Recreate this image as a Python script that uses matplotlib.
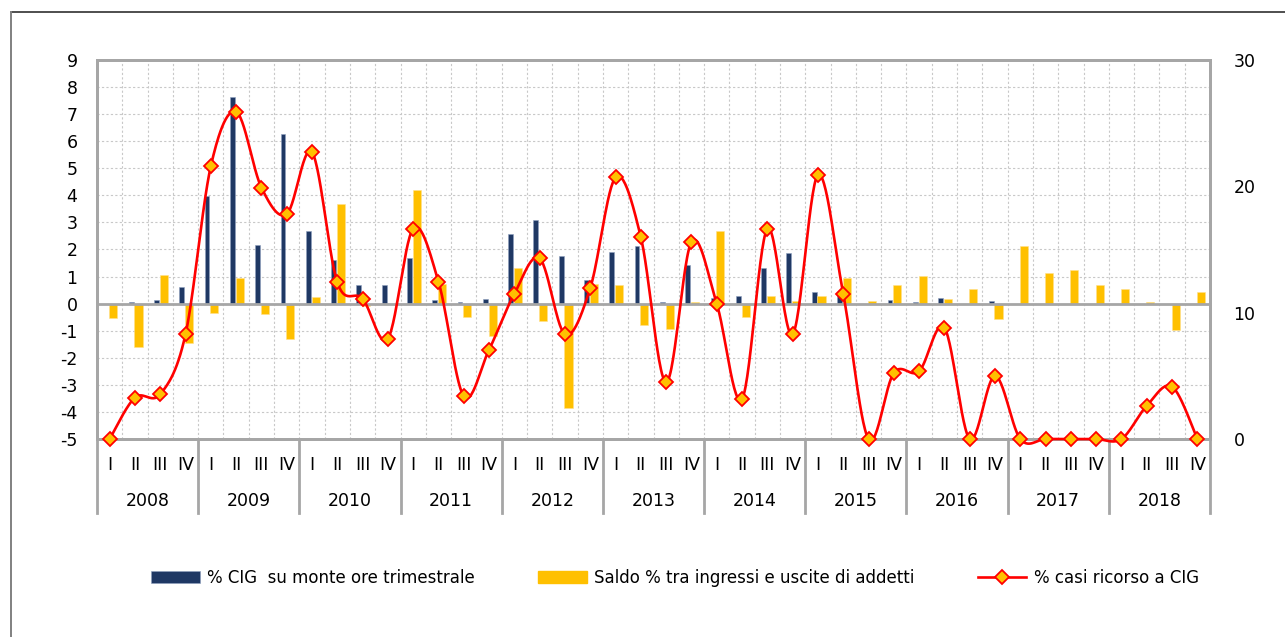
import numpy as np
import matplotlib
matplotlib.use("Agg")
import matplotlib.pyplot as plt
from matplotlib.patches import Patch
from matplotlib.lines import Line2D
import matplotlib.transforms as mtransforms

plt.rcParams['font.family'] = ['DejaVu Sans']
plt.rcParams['axes.unicode_minus'] = False

years = ['2008', '2009', '2010', '2011', '2012', '2013', '2014', '2015', '2016', '2017', '2018']
quarters = ['I', 'II', 'III', 'IV']

cig = [0, 0.05, 0.15, 0.6, 3.96, 7.63, 2.15, 6.27, 2.69, 1.6, 0.69, 0.69,
       1.70, 0.12, 0.07, 0.18, 2.58, 3.08, 1.75, 0.86, 1.92, 2.12, 0.06, 1.43,
       0.2, 0.27, 1.32, 1.88, 0.43, 0.33, 0, 0.12, 0.07, 0.22, 0, 0.09,
       0, 0, 0, 0, 0, 0, 0, 0]
saldo = [-0.52, -1.6, 1.05, -1.45, -0.33, 0.96, -0.38, -1.32, 0.23, 3.67, -0.1, 0.0,
         4.18, 0.71, -0.49, -1.19, 1.33, -0.64, -3.85, 0.74, 0.70, -0.8, -0.93, 0.06,
         2.67, -0.49, 0.27, 0.09, 0.27, 0.96, 0.09, 0.68, 1.01, 0.16, 0.53, -0.55,
         2.13, 1.14, 1.25, 0.68, 0.55, 0.06, -0.96, 0.42]
casi = [0, 3.28, 3.54, 8.3, 21.6, 25.9, 19.9, 17.8, 22.7, 12.4, 11.1, 7.95,
        16.65, 12.45, 3.39, 7.07, 11.5, 14.3, 8.29, 11.95, 20.7, 15.98, 4.5, 15.6,
        10.7, 3.17, 16.65, 8.29, 20.9, 11.5, 0, 5.23, 5.36, 8.8, 0, 4.99,
        0, 0, 0, 0, 0, 2.63, 4.15, 0]

NAVY = '#1F3864'
YELLOW = '#FFC000'
RED = '#FF0000'
FRAME = '#A6A6A6'

n = len(cig)
x = np.arange(n)

W, H = 1285, 637
fig = plt.figure(figsize=(W / 100, H / 100), dpi=100)

# outer chart border (top dark, left gray)
fig.add_artist(Line2D([11 / W, 1.0], [1 - 12 / H, 1 - 12 / H], transform=fig.transFigure,
                      color='#303030', lw=1.2))
fig.add_artist(Line2D([11 / W, 11 / W], [0.0, 1 - 12 / H], transform=fig.transFigure,
                      color='#808080', lw=1.4))

left, right, top, bottom = 97 / W, 1210 / W, 1 - 60 / H, 1 - 439 / H
ax = fig.add_axes([left, bottom, right - left, top - bottom])
ax2 = ax.twinx()

ax.set_xlim(-0.5, n - 0.5)
ax.set_ylim(-5, 9)
ax.set_yticks(range(-5, 10))
ax2.set_ylim(0, 30)
ax2.set_yticks([0, 10, 20, 30])

# grid
ax.set_xticks(np.arange(-0.5, n, 1.0), minor=True)
ax.grid(True, which='major', axis='y', color='#C8C8C8', lw=0.8, ls=(0, (2, 2)))
ax.grid(True, which='minor', axis='x', color='#C8C8C8', lw=0.8, ls=(0, (2, 2)))
ax.set_axisbelow(True)

# bars
ax.bar(x - 0.15, cig, width=0.19, color=NAVY, edgecolor='#8EA0BF', lw=0.4, zorder=3)
ax.bar(x + 0.14, saldo, width=0.32, color=YELLOW, edgecolor='#FFE08A', lw=0.4, zorder=3)
ax.axhline(0, color=FRAME, lw=2.0, zorder=4)

# smoothed line (Bezier through the points, like spreadsheet smoothing)
px = np.array(x, dtype=float)
py = np.array(casi, dtype=float)
xs, ys = [], []
t = np.linspace(0, 1, 30)
for i in range(n - 1):
    p0 = np.array([px[i], py[i]])
    p3 = np.array([px[i + 1], py[i + 1]])
    pm = np.array([px[i - 1], py[i - 1]]) if i > 0 else p0
    pp = np.array([px[i + 2], py[i + 2]]) if i + 2 < n else p3
    c1 = p0 + (p3 - pm) / 6.0
    c2 = p3 - (pp - p0) / 6.0
    b = ((1 - t) ** 3)[:, None] * p0 + (3 * (1 - t) ** 2 * t)[:, None] * c1 + \
        (3 * (1 - t) * t ** 2)[:, None] * c2 + (t ** 3)[:, None] * p3
    xs.extend(b[:, 0]); ys.extend(b[:, 1])
ax2.plot(xs, ys, color=RED, lw=1.9, zorder=5, clip_on=False)
ax2.plot(x, casi, ls='none', marker='D', markersize=7.5, markerfacecolor=YELLOW,
         markeredgecolor=RED, markeredgewidth=1.3, zorder=6, clip_on=False)

# spines / frame
for a in (ax, ax2):
    for s in a.spines.values():
        s.set_color(FRAME)
        s.set_linewidth(2.0)
ax.tick_params(axis='both', which='both', length=0)
ax2.tick_params(axis='both', which='both', length=0)
ax.tick_params(axis='y', labelsize=12.5, pad=14)
ax2.tick_params(axis='y', labelsize=12.5, pad=17)

# category axis: quarters and years
ax.set_xticks(x)
ax.set_xticklabels([])
trans = mtransforms.blended_transform_factory(ax.transData, ax.transAxes)
axh = 379.0
for i in range(n):
    ax.text(x[i], -26 / axh, quarters[i % 4], transform=trans, ha='center', va='center',
            fontsize=12.5)
for j, yv in enumerate(years):
    ax.text(4 * j + 1.5, -62 / axh, yv, transform=trans, ha='center', va='center', fontsize=12.5)
for b in np.arange(-0.5, n, 4.0):
    ax.plot([b, b], [0, -74 / axh], transform=trans, color=FRAME, lw=2.0, clip_on=False)

# legend
handles = [Patch(facecolor=NAVY, edgecolor='#8EA0BF', lw=0.4),
           Patch(facecolor=YELLOW, edgecolor=YELLOW),
           Line2D([], [], color=RED, lw=1.9, marker='D', markersize=7.5,
                  markerfacecolor=YELLOW, markeredgecolor=RED, markeredgewidth=1.3)]
labels = ['% CIG  su monte ore trimestrale', 'Saldo % tra ingressi e uscite di addetti',
          '% casi ricorso a CIG']
fig.legend(handles, labels, loc='center', bbox_to_anchor=(675 / W, 1 - 578 / H), ncol=3,
           frameon=False, fontsize=12, handlelength=2.9, handletextpad=0.45,
           columnspacing=3.8)

fig.savefig('out.png', dpi=100)
